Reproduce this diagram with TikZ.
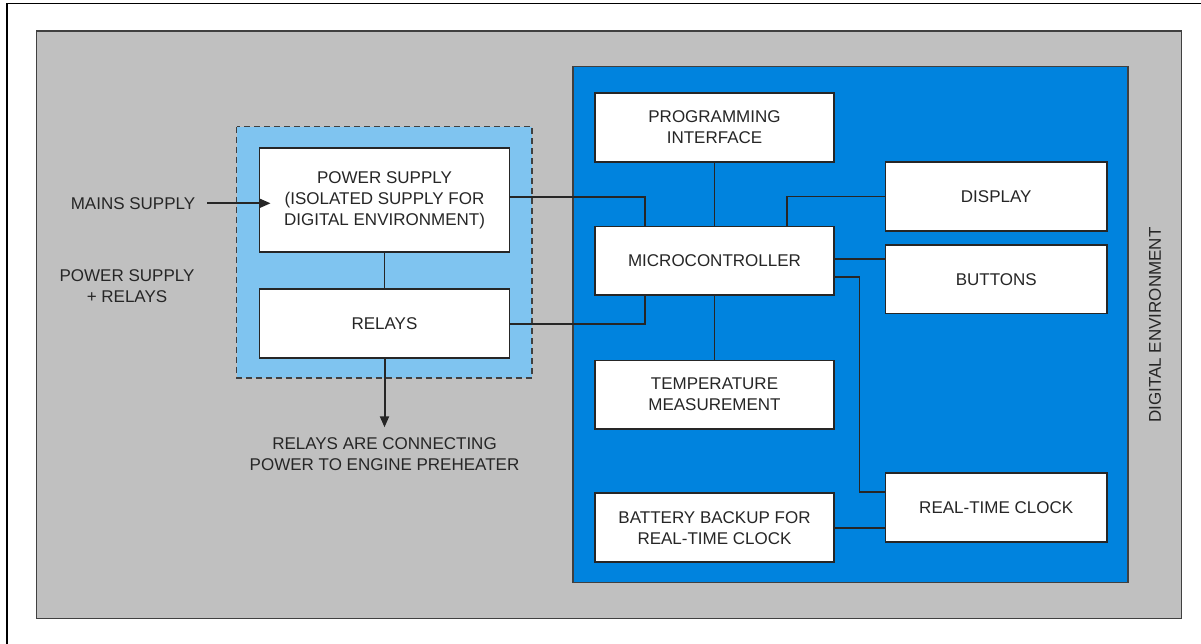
\documentclass[tikz,border=0pt]{standalone}
\usepackage{fontspec}
\setmainfont{Liberation Sans}
\usetikzlibrary{calc,arrows.meta}
\definecolor{envgray}{HTML}{C0C0C0}
\definecolor{digblue}{HTML}{0083DE}
\definecolor{relblue}{HTML}{7FC4F0}
\tikzset{
	blockbox/.style={draw=black!85, line width=1.8pt, fill=white, inner sep=0pt, align=center, minimum height=68.5pt},
	wire/.style={draw=black!85, line width=1.8pt},
	feed/.style={draw=black!85, line width=2pt, -{Triangle[length=11pt,width=9pt]}},
	label/.style={align=center, inner sep=0pt}
}
\begin{document}
\begin{tikzpicture}[x=1pt, y=-1pt, font=\fontsize{17}{21}\selectfont\color{black!85}]
		%%%%% START %%%%%
		\useasboundingbox (0, 0) rectangle (1201, 644);
		\draw[line width=1.4pt] (6.9, 644) -- (6.9, 3.4) -- (1201, 3.4);
		
		\draw[fill=envgray, draw=black!75, line width=1.6pt] (36.4, 31) rectangle (1181.4, 618.3);
		\draw[fill=relblue, draw=black!75, line width=1.6pt, dash pattern=on 6pt off 4pt] (236.5, 126.7) rectangle (532, 377.7);
		\draw[fill=digblue, draw=black!75, line width=1.6pt] (573, 66.7) rectangle (1128.2, 582.3);
		
		\node[blockbox, minimum width=250pt, minimum height=104pt] (ps) at (384.5, 200) {POWER SUPPLY\\(ISOLATED SUPPLY FOR\\DIGITAL ENVIRONMENT)};
		\node[blockbox, minimum width=250pt, minimum height=69pt] (rel) at (384.5, 323.8) {RELAYS};
		
		\node[blockbox, minimum width=239pt] (prog) at (714.5, 127.5) {PROGRAMMING\\INTERFACE};
		\node[blockbox, minimum width=239pt] (mcu) at (714.5, 260.8) {MICROCONTROLLER};
		\node[blockbox, minimum width=239pt] (temp) at (714.5, 394.7) {TEMPERATURE\\MEASUREMENT};
		\node[blockbox, minimum width=239pt, minimum height=69.3pt] (bat) at (714.5, 527.7) {BATTERY BACKUP FOR\\REAL-TIME CLOCK};
		
		\node[blockbox, minimum width=221.5pt] (disp) at (996.2, 196.5) {DISPLAY};
		\node[blockbox, minimum width=221.5pt] (btn) at (996.2, 279.2) {BUTTONS};
		\node[blockbox, minimum width=221.5pt, minimum height=69pt] (rtc) at (996.2, 507.8) {REAL-TIME CLOCK};
		
		\node[label] (mains) at (133, 203.3) {MAINS SUPPLY};
		\node[label] (prlabel) at (127, 286) {POWER SUPPLY\\+ RELAYS};
		\node[label] (heater) at (384.5, 454.3) {RELAYS ARE CONNECTING\\POWER TO ENGINE PREHEATER};
		\node[label, rotate=90] (digital) at (1155, 325) {DIGITAL ENVIRONMENT};
		\coordinate (heatertip) at (384.5, 427.3);
		
		\draw[feed] ([xshift=12pt]mains.east) -- ([xshift=12pt]mains.east -| ps.west);
		\draw[feed] (rel.south) -- (heatertip);
		
		\draw[wire] (ps) -- (rel);
		\draw[wire] ([yshift=3.3pt]ps.east) -| ([xshift=-69.5pt]mcu.north);
		\draw[wire] (rel.east) -| ([xshift=-69.5pt]mcu.south);
		\draw[wire] (prog) -- (mcu);
		\draw[wire] (mcu) -- (temp);
		\draw[wire] (disp.west) -| ([xshift=72.2pt]mcu.north);
		\draw[wire] ([yshift=1.5pt]mcu.east) -- ([yshift=1.5pt]mcu.east -| btn.west);
		\draw[wire] ([yshift=-16pt]mcu.east) -- ++(24.6, 0) |- ([yshift=16pt]rtc.west);
		\draw[wire] (bat.east) -- (bat.east -| rtc.west);
		%%%%% END %%%%%
	\end{tikzpicture}
\end{document}
